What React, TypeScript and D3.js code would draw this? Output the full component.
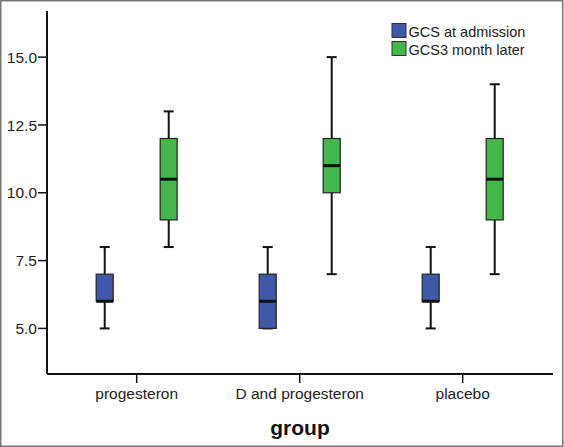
import React from "react";
import * as d3 from "d3";

const categories = ["progesteron", "D and progesteron", "placebo"];
const seriesNames = ["GCS at admission", "GCS3 month later"];
const seriesColors = ["#3F58AA", "#44B64A"];
// [whiskerLow, q1, median, q3, whiskerHigh]
const admission = [
  [5, 6, 6, 7, 8],
  [5, 5, 6, 7, 8],
  [5, 6, 6, 7, 8],
];
const later = [
  [8, 9, 10.5, 12, 13],
  [7, 10, 11, 12, 15],
  [7, 9, 10.5, 12, 14],
];
const yTicks = [5, 7.5, 10, 12.5, 15];
const xTitle = "group";

const W = 564;
const H = 447;

export default function App() {
  const y = d3.scaleLinear().domain([3.32, 16.7]).range([374, 11]);
  const x = d3.scalePoint<string>().domain(categories).range([136.7, 462.7]);
  const offsets = [-32, 32];
  const boxW = 17;
  const capW = 10;
  const series = [admission, later];
  const font = "'Liberation Sans', Arial, sans-serif";

  return (
    <svg width={W} height={H} style={{ position: "absolute", left: 0, top: 0 }} fontFamily={font}>
      <rect x={0} y={0} width={W} height={H} fill="#ffffff" />
      <rect x={0.75} y={0.75} width={W - 2} height={H - 1.5} fill="none" stroke="#777" strokeWidth={1.5} />
      {/* axes */}
      <line x1={47} x2={47} y1={11} y2={374} stroke="#111" strokeWidth={2} />
      <line x1={47} x2={553} y1={374} y2={374} stroke="#111" strokeWidth={2} />
      {yTicks.map((t) => (
        <g key={t}>
          <line x1={38} x2={47} y1={y(t)} y2={y(t)} stroke="#111" strokeWidth={1.5} />
          <text x={37} y={y(t)} dy="0.36em" textAnchor="end" fontSize={15.5} fill="#222">
            {d3.format(".1f")(t)}
          </text>
        </g>
      ))}
      {categories.map((c) => (
        <g key={c}>
          <line x1={x(c)} x2={x(c)} y1={374} y2={383} stroke="#111" strokeWidth={1.5} />
          <text x={x(c)} y={398.5} textAnchor="middle" fontSize={15.5} fill="#222">
            {c}
          </text>
        </g>
      ))}
      <text x={300} y={434.5} textAnchor="middle" fontSize={21} fontWeight="bold" fill="#111">
        {xTitle}
      </text>
      {/* boxes */}
      {series.map((s, si) =>
        s.map((v, ci) => {
          const cx = (x(categories[ci]) as number) + offsets[si];
          const [lo, q1, med, q3, hi] = v;
          return (
            <g key={`${si}-${ci}`}>
              <line x1={cx} x2={cx} y1={y(hi)} y2={y(q3)} stroke="#111" strokeWidth={2} />
              <line x1={cx} x2={cx} y1={y(q1)} y2={y(lo)} stroke="#111" strokeWidth={2} />
              <line x1={cx - capW / 2} x2={cx + capW / 2} y1={y(hi)} y2={y(hi)} stroke="#111" strokeWidth={2} />
              <line x1={cx - capW / 2} x2={cx + capW / 2} y1={y(lo)} y2={y(lo)} stroke="#111" strokeWidth={2} />
              <rect
                x={cx - boxW / 2}
                y={y(q3)}
                width={boxW}
                height={y(q1) - y(q3)}
                fill={seriesColors[si]}
                stroke="#222"
                strokeWidth={1.2}
              />
              <line x1={cx - boxW / 2} x2={cx + boxW / 2} y1={y(med)} y2={y(med)} stroke="#111" strokeWidth={3} />
            </g>
          );
        })
      )}
      {/* legend */}
      {seriesNames.map((n, i) => (
        <g key={n}>
          <rect x={392} y={23.5 + i * 18} width={14} height={14} fill={seriesColors[i]} stroke="#333" strokeWidth={1} />
          <text x={408.5} y={37 + i * 18} fontSize={14.5} fill="#222">
            {n}
          </text>
        </g>
      ))}
    </svg>
  );
}
